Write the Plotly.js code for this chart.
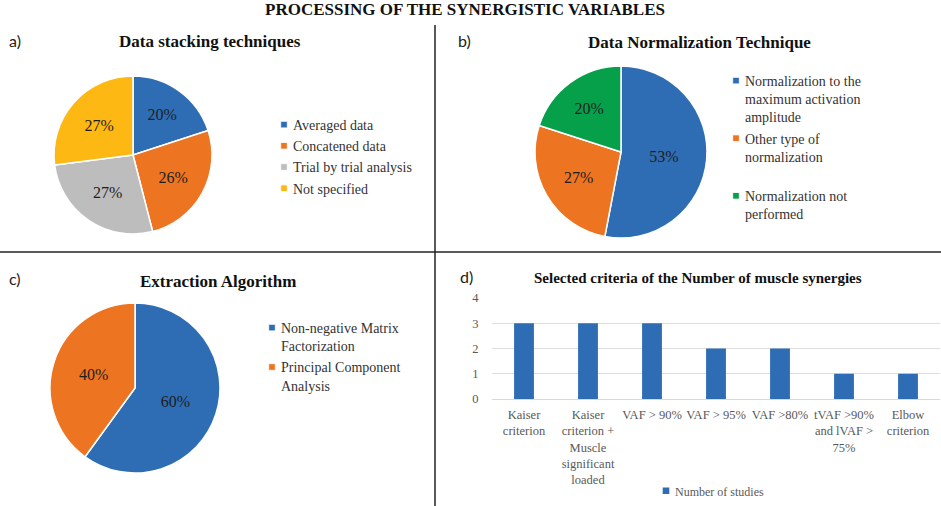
<!DOCTYPE html>
<html>
<head>
<meta charset="utf-8">
<script src="https://cdn.plot.ly/plotly-3.0.1.min.js"></script>
<style>
  html, body { margin: 0; padding: 0; background: #fff; }
  #chart { width: 941px; height: 506px; }
  .legendpoints path { transform: translate(31px, 0px) scale(0.55); }
</style>
</head>
<body>
<div id="chart"></div>
<script>
// panel a
const stackLabels = ["Averaged data", "Concatened data", "Trial by trial analysis", "Not specified"];
const stackValues = [20, 26, 27, 27];
// panel b
const normLabels = ["Normalization to the<br>maximum activation<br>amplitude", "Other type of<br>normalization<br> ", "Normalization not<br>performed"];
const normValues = [53, 27, 20];
// panel c
const algoLabels = ["Non-negative Matrix<br>Factorization", "Principal Component<br>Analysis"];
const algoValues = [60, 40];
// panel d
const criteria = ["Kaiser<br>criterion", "Kaiser<br>criterion +<br>Muscle<br>significant<br>loaded", "VAF > 90%", "VAF > 95%", "VAF >80%", "tVAF >90%<br>and lVAF ><br>75%", "Elbow<br>criterion"];
const studies = [3, 3, 3, 2, 2, 1, 1];

const serif = "Liberation Serif";
const blue = "#2e6db4", orange = "#ed7421", grey = "#bdbdbd", yellow = "#fdb813", green = "#06a04b";

const W = 941, H = 506;
const px = v => v / W;
const py = v => 1 - v / H;

function pie(labels, values, colors, domain, legend) {
  return {
    type: "pie",
    labels: labels,
    values: values,
    sort: false,
    direction: "clockwise",
    rotation: 0,
    marker: { colors: colors, line: { color: "#fff", width: 1.5 } },
    textinfo: "percent",
    texttemplate: "%{percent:.0%}",
    textposition: "inside",
    insidetextorientation: "horizontal",
    textfont: { family: serif, size: 16, color: "#1e1e1e" },
    hoverinfo: "label+percent",
    domain: domain,
    legend: legend
  };
}

const traces = [
  pie(stackLabels, stackValues, [blue, orange, grey, yellow],
      { x: [px(54), px(212)], y: [py(234), py(76)] }, "legend"),
  pie(normLabels, normValues, [blue, orange, green],
      { x: [px(535), px(707)], y: [py(238), py(66)] }, "legend2"),
  pie(algoLabels, algoValues, [blue, orange],
      { x: [px(50), px(220)], y: [py(473), py(303)] }, "legend3"),
  {
    type: "bar",
    name: "Number of studies",
    x: criteria,
    y: studies,
    marker: { color: blue },
    xaxis: "x",
    yaxis: "y",
    legend: "legend4",
    showlegend: true
  }
];

function legendBase() {
  return {
    xanchor: "left",
    yanchor: "top",
    valign: "top",
    bgcolor: "rgba(0,0,0,0)",
    font: { family: serif, size: 14, color: "#333" }
  };
}

function label(text, x, y, opts) {
  return Object.assign({
    text: text, x: px(x), y: py(y), xref: "paper", yref: "paper",
    showarrow: false, xanchor: "center", yanchor: "middle",
    font: { family: serif, size: 17, color: "#111" }
  }, opts || {});
}

const panelFont = { family: "Lato", size: 16, color: "#222" };

const layout = {
  width: W,
  height: H,
  margin: { l: 0, r: 0, t: 0, b: 0 },
  font: { family: serif },
  paper_bgcolor: "#fff",
  plot_bgcolor: "#fff",
  bargap: 0.69,
  xaxis: {
    domain: [px(492), px(940)],
    showgrid: false,
    showline: true,
    linecolor: "#d9d9d9",
    ticks: "outside",
    ticklen: 4,
    tickcolor: "rgba(0,0,0,0)",
    tickfont: { family: serif, size: 12.5, color: "#595959" },
    tickangle: 0
  },
  yaxis: {
    domain: [py(399), py(298)],
    range: [0, 4],
    dtick: 1,
    showgrid: true,
    gridcolor: "#dedede",
    zeroline: false,
    ticks: "outside",
    ticklen: 10,
    tickcolor: "rgba(0,0,0,0)",
    tickfont: { family: serif, size: 12.5, color: "#595959" }
  },
  legend: Object.assign(legendBase(), { x: px(253), y: py(109) }),
  legend2: Object.assign(legendBase(), { x: px(705), y: py(65) }),
  legend3: Object.assign(legendBase(), { x: px(241), y: py(312) }),
  legend4: Object.assign(legendBase(), {
    orientation: "h", xanchor: "center", yanchor: "middle",
    x: px(702), y: py(491),
    font: { family: serif, size: 12, color: "#595959" }
  }),
  annotations: [
    label("<b>PROCESSING OF THE SYNERGISTIC VARIABLES</b>", 465, 9, { font: { family: serif, size: 17, color: "#111" } }),
    label("a)", 7, 41, { xanchor: "left", font: panelFont }),
    label("<b>Data stacking techniques</b>", 210, 42),
    label("b)", 456, 41, { xanchor: "left", font: panelFont }),
    label("<b>Data Normalization Technique</b>", 699, 43),
    label("c)", 7, 278, { xanchor: "left", font: panelFont }),
    label("<b>Extraction Algorithm</b>", 218, 281),
    label("d)", 458, 276, { xanchor: "left", font: panelFont }),
    label("<b>Selected criteria of the Number of muscle synergies</b>", 698, 278, { font: { family: serif, size: 15, color: "#111" } })
  ],
  shapes: [
    { type: "line", xref: "paper", yref: "paper", x0: px(435), x1: px(435), y0: py(25), y1: 0,
      line: { color: "#222", width: 1.5 } },
    { type: "line", xref: "paper", yref: "paper", x0: 0, x1: 1, y0: py(252), y1: py(252),
      line: { color: "#222", width: 1.5 } }
  ]
};

Plotly.newPlot("chart", traces, layout, { displayModeBar: false, staticPlot: true });
</script>
</body>
</html>
